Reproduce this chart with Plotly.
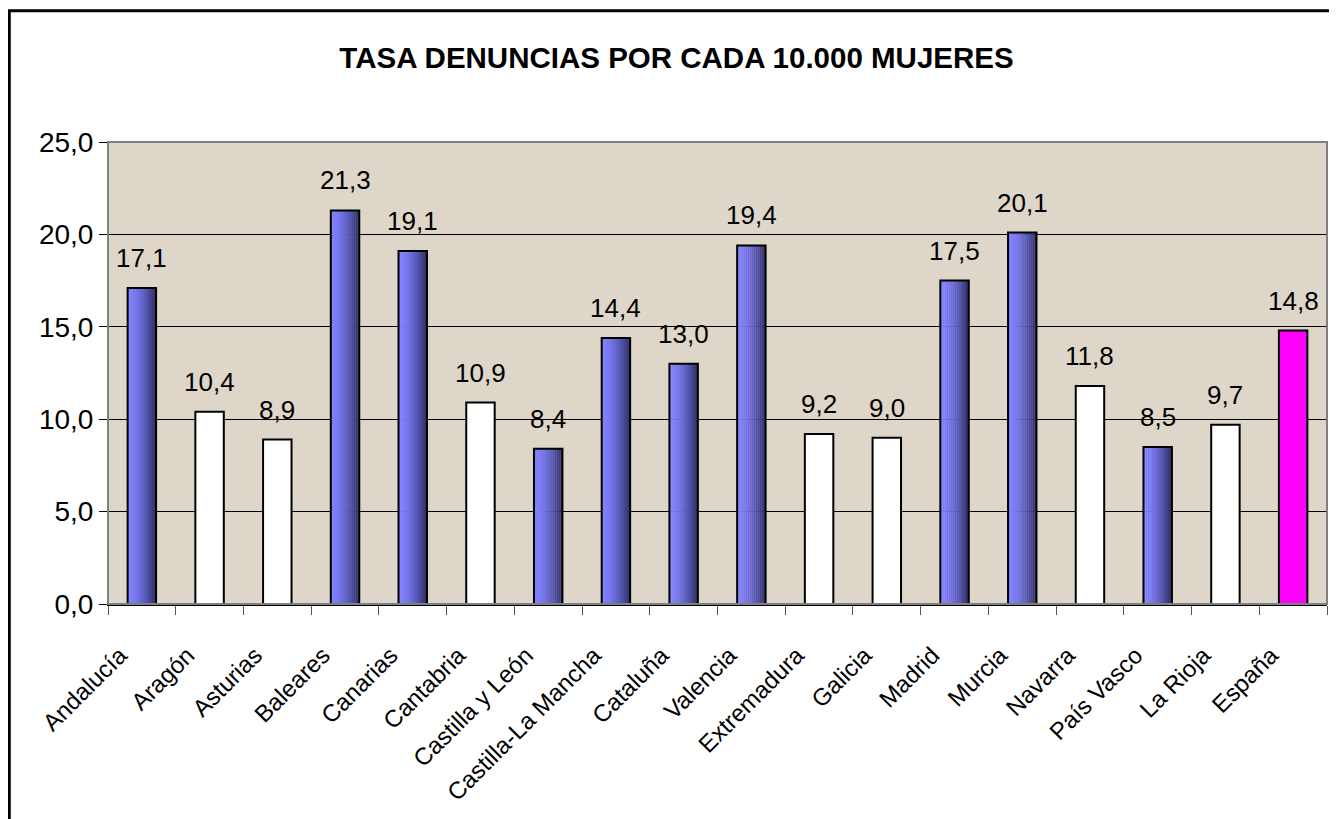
import plotly.graph_objects as go

# datos
regiones = ["Andalucía", "Aragón", "Asturias", "Baleares", "Canarias", "Cantabria",
            "Castilla y León", "Castilla-La Mancha", "Cataluña", "Valencia",
            "Extremadura", "Galicia", "Madrid", "Murcia", "Navarra", "País Vasco",
            "La Rioja", "España"]
tasas = [17.1, 10.4, 8.9, 21.3, 19.1, 10.9, 8.4, 14.4, 13.0, 19.4,
         9.2, 9.0, 17.5, 20.1, 11.8, 8.5, 9.7, 14.8]
grupos = ["azul", "blanco", "blanco", "azul", "azul", "blanco", "azul", "azul", "azul",
          "azul", "blanco", "blanco", "azul", "azul", "blanco", "azul", "blanco", "total"]

titulo = "TASA DENUNCIAS POR CADA 10.000 MUJERES"
FUENTE = "Liberation Sans, Arial, sans-serif"

ANCHO = 0.42
N_FRANJAS = 14
claro = (128, 128, 255)
oscuro = (48, 48, 105)

fig = go.Figure()

# barras azules con degradado horizontal (franjas superpuestas)
x_azul = [r for r, g in zip(regiones, grupos) if g == "azul"]
y_azul = [v for v, g in zip(tasas, grupos) if g == "azul"]
for k in range(N_FRANJAS):
    t = (k / (N_FRANJAS - 1)) ** 1.6
    col = tuple(round(claro[i] + (oscuro[i] - claro[i]) * t) for i in range(3))
    fig.add_trace(go.Bar(
        x=x_azul, y=y_azul,
        width=ANCHO / N_FRANJAS + 0.004,
        offset=-ANCHO / 2 + k * ANCHO / N_FRANJAS,
        marker=dict(color="rgb(%d,%d,%d)" % col, line=dict(width=0)),
        hoverinfo="skip", showlegend=False,
    ))

# contorno y relleno del resto
relleno = {"azul": "rgba(0,0,0,0)", "blanco": "#FFFFFF", "total": "#FF00FF"}
fig.add_trace(go.Bar(
    x=regiones, y=tasas,
    width=ANCHO, offset=-ANCHO / 2,
    marker=dict(color=[relleno[g] for g in grupos], line=dict(color="black", width=2)),
    showlegend=False,
))

# etiquetas de valor
for r, v in zip(regiones, tasas):
    fig.add_annotation(
        x=r, y=v, text=("%.1f" % v).replace(".", ","),
        showarrow=False, yanchor="bottom", yshift=13,
        font=dict(family=FUENTE, size=26, color="black"),
    )

fig.update_layout(
    width=1337, height=819,
    margin=dict(l=100, r=18, t=134, b=223),
    paper_bgcolor="white",
    plot_bgcolor="#DDD6C9",
    barmode="overlay",
    separators=",.",
    font=dict(family=FUENTE, color="black"),
    title=dict(text="<b>" + titulo + "</b>", x=0.5, xanchor="center",
               y=0.939, yanchor="middle",
               font=dict(family=FUENTE, size=29.5, color="black")),
)

fig.update_yaxes(
    range=[0, 25], dtick=5, tickformat=".1f",
    showgrid=True, gridcolor="black", gridwidth=1,
    ticks="outside", ticklen=8, tickcolor="black",
    showline=True, linecolor="#555555", linewidth=1,
    tickfont=dict(size=28), zeroline=False,
)
fig.update_xaxes(
    categoryorder="array", categoryarray=regiones,
    tickangle=-45, tickson="boundaries",
    ticks="outside", ticklen=9, tickcolor="#555555",
    showline=True, linecolor="black", linewidth=1.5,
    tickfont=dict(size=24),
    ticklabelstandoff=26, ticklabelshift=-22,
)

# borde gris del área de trazado
fig.add_shape(type="rect", xref="paper", yref="paper", x0=0, y0=0, x1=1, y1=1,
              line=dict(color="#808080", width=2), layer="above")
# marco exterior
fig.add_shape(type="rect", xref="paper", yref="paper",
              x0=-0.081, y0=-0.6, x1=1.05, y1=1.284,
              line=dict(color="black", width=3), layer="above")

fig.write_html("out.html")
